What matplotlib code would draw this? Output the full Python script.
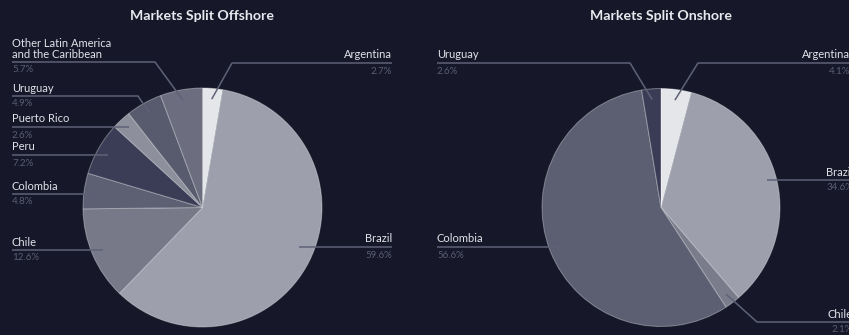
import numpy as np
import matplotlib
matplotlib.use("Agg")
import matplotlib.pyplot as plt

W, H = 849, 335
BG = "#161829"

# ---- data -------------------------------------------------------------
offshore_labels = ["Argentina", "Brazil", "Chile", "Colombia", "Peru",
                   "Puerto Rico", "Uruguay",
                   "Other Latin America\nand the Caribbean"]
offshore_values = [2.7, 59.6, 12.6, 4.8, 7.2, 2.6, 4.9, 5.7]
offshore_colors = ["#e4e6ea", "#9d9fad", "#777989", "#5d5f72", "#3b3d57",
                   "#8d8f9c", "#585a6d", "#6c6e7f"]

onshore_labels = ["Argentina", "Brazil", "Chile", "Colombia", "Uruguay"]
onshore_values = [4.1, 34.6, 2.1, 56.6, 2.6]
onshore_colors = ["#e4e6ea", "#9d9fad", "#7a7c8b", "#5c5e72", "#3a3c56"]

# label layout: side, text x, underline y (px from top), elbow x (None = straight)
offshore_layout = {
    "Argentina": ("right", 392, 63, 232),
    "Brazil": ("right", 392, 247, None),
    "Chile": ("left", 12, 250, None),
    "Colombia": ("left", 12, 194, None),
    "Peru": ("left", 12, 155, None),
    "Puerto Rico": ("left", 12, 127, None),
    "Uruguay": ("left", 12, 96, 138),
    "Other Latin America\nand the Caribbean": ("left", 12, 62, 155),
}
onshore_layout = {
    "Argentina": ("right", 850, 63, 698),
    "Brazil": ("right", 853, 180, None),
    "Chile": ("right", 853, 322, 757),
    "Colombia": ("left", 437, 247, None),
    "Uruguay": ("left", 437, 63, 630),
}

plt.rcParams["font.family"] = ["Lato", "DejaVu Sans"]

fig = plt.figure(figsize=(W / 100, H / 100), dpi=100, facecolor=BG)
ax = fig.add_axes([0, 0, 1, 1])
ax.set_xlim(0, W)
ax.set_ylim(0, H)
ax.set_aspect("equal")
ax.axis("off")
ax.set_facecolor(BG)


def Y(y):
    return H - y


LINE = "#5f6276"
NAME = "#e2e3ea"
PCT = "#5a5d71"


def draw_pie(title, labels, values, colors, layout, cx, cy, r):
    ax.pie(values, colors=colors, startangle=90, counterclock=False,
           center=(cx, Y(cy)), radius=r, frame=True,
           wedgeprops=dict(edgecolor=(1, 1, 1, 0.35), linewidth=0.7))
    ax.text(cx, Y(16), title, ha="center", va="center", color="#e8e9ee",
            fontsize=10.2, fontweight="bold")
    total = sum(values)
    cum = 0.0
    for lab, v in zip(labels, values):
        mid = (cum + v / 2) / total * 2 * np.pi
        cum += v
        ax_x = cx + 0.91 * r * np.sin(mid)
        ax_y = cy - 0.91 * r * np.cos(mid)
        side, tx, uy, elbow = layout[lab]
        if elbow is None:
            pts = [(ax_x, uy), (tx, uy)]
        else:
            pts = [(ax_x, ax_y), (elbow, uy), (tx, uy)]
        xs = [p[0] for p in pts]
        ys = [Y(p[1]) for p in pts]
        ax.plot(xs, ys, color=LINE, lw=1.1, solid_capstyle="butt", zorder=5)
        ha = "left" if side == "left" else "right"
        ax.text(tx, Y(uy - 2.5), lab, ha=ha, va="bottom", color=NAME,
                fontsize=8.0, linespacing=0.95, zorder=6)
        ax.text(tx, Y(uy + 3.5), f"{v}%", ha=ha, va="top", color=PCT,
                fontsize=7.0, zorder=6)


draw_pie("Markets Split Offshore", offshore_labels, offshore_values,
         offshore_colors, offshore_layout, 202.5, 207.5, 119.5)
draw_pie("Markets Split Onshore", onshore_labels, onshore_values,
         onshore_colors, onshore_layout, 661, 207.5, 119)

ax.set_xlim(0, W)
ax.set_ylim(0, H)

fig.savefig("out.png", dpi=100, facecolor=BG)
